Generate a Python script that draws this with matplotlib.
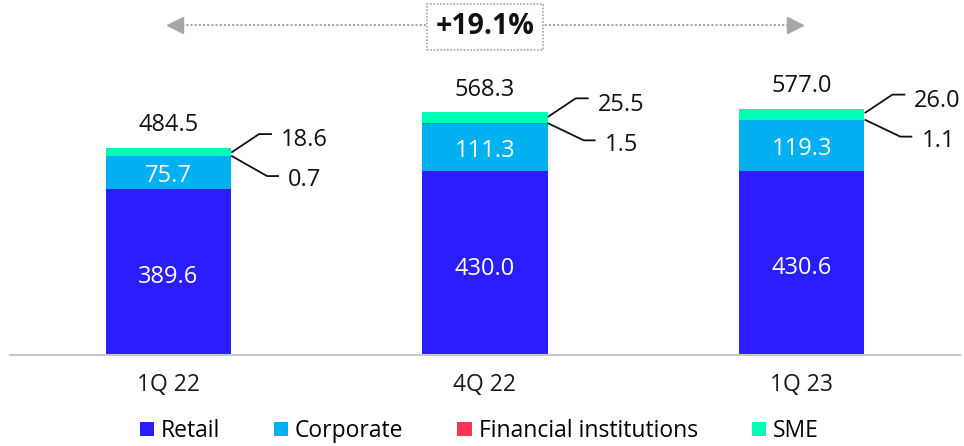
import matplotlib
matplotlib.use("Agg")
import matplotlib.pyplot as plt
from matplotlib.patches import Patch
import matplotlib.transforms as mtransforms
import numpy as np

categories = ['1Q 22', '4Q 22', '1Q 23']
retail = [389.6, 430.0, 430.6]
corporate = [75.7, 111.3, 119.3]
financial = [0.7, 1.5, 1.1]
sme = [18.6, 25.5, 26.0]
totals = [484.5, 568.3, 577.0]
growth_label = '+19.1%'
series_names = ['Retail', 'Corporate', 'Financial institutions', 'SME']

colors = ['#2A1EFF', '#00B0F0', '#FF3355', '#00FFB4']
FONT = ['Open Sans', 'DejaVu Sans']
plt.rcParams['font.family'] = FONT

W, H = 964, 446
fig = plt.figure(figsize=(W / 100, H / 100), dpi=100)
ax = fig.add_axes([10 / W, 91 / H, 950 / W, 355 / H])
ax.set_xlim(-0.5, 2.5)
ax.set_ylim(0, 355 / 0.427)

x = np.arange(len(categories))
bw = 0.396
r = np.array(retail)
c = np.array(corporate)
f = np.array(financial)
s = np.array(sme)

ax.bar(x, r, bw, color=colors[0], zorder=2)
ax.bar(x, c, bw, bottom=r, color=colors[1], zorder=2)
ax.bar(x, f, bw, bottom=r + c, color=colors[2], zorder=2)
ax.bar(x, s, bw, bottom=r + c + f, color=colors[3], zorder=2)

for sp in ['top', 'left', 'right']:
    ax.spines[sp].set_visible(False)
ax.spines['bottom'].set_color('#C8C8C8')
ax.spines['bottom'].set_linewidth(1.5)
ax.set_yticks([])
ax.set_xticks(x)
ax.set_xticklabels(categories, fontsize=16.5, color='#1a1a1a')
ax.tick_params(axis='x', length=0, pad=13)

fig.canvas.draw()
toD = ax.transData
inv = ax.transData.inverted()


def px(xd, yd, dx, dy):
    # dx right, dy down, in pixels
    X, Y = toD.transform((xd, yd))
    return inv.transform((X + dx, Y - dy))


fs = 17
half = 8.4  # half digit height in px


def label(xd, yd, dx, dy, txt, ha='center', color='#111111'):
    p = px(xd, yd, dx, dy + half)
    ax.text(p[0], p[1], txt, ha=ha, va='baseline', fontsize=fs, color=color, zorder=5)


for i in range(len(x)):
    right = x[i] + bw / 2
    top = r[i] + c[i] + f[i] + s[i]
    fi_y = r[i] + c[i] + f[i] / 2
    # inside labels
    label(x[i], r[i] / 2, 0, 3, f'{retail[i]:.1f}', color='white')
    label(x[i], r[i] + c[i] / 2, 0, 1, f'{corporate[i]:.1f}', color='white')
    # total label
    label(x[i], top, 0, -25, f'{totals[i]:.1f}')
    # SME leader
    p0 = px(right, top, 1, 4)
    p1 = px(right, top, 28, -14)
    p2 = px(right, top, 40, -14)
    ax.plot([p0[0], p1[0], p2[0]], [p0[1], p1[1], p2[1]], color='#111111', lw=1.3,
            clip_on=False, zorder=4)
    label(right, top, 50, -10, f'{sme[i]:.1f}', ha='left')
    # FI leader
    q0 = px(right, fi_y, 1, 0)
    q1 = px(right, top, 36, 28)
    q2 = px(right, top, 47, 28)
    ax.plot([q0[0], q1[0], q2[0]], [q0[1], q1[1], q2[1]], color='#111111', lw=1.3,
            clip_on=False, zorder=4)
    label(right, top, 57, 30, f'{financial[i]:.1f}', ha='left')

# growth arrow
trans = mtransforms.blended_transform_factory(ax.transData, fig.transFigure)
ya = 1 - 25 / H
ax.plot([x[0] + 0.03, x[-1] - 0.03], [ya, ya], transform=trans, color='#A6A6A6',
        lw=1.5, ls=(0, (1, 1)), clip_on=False)
ax.plot([x[0] + 0.02], [ya], transform=trans, marker='<', color='#A6A6A6',
        markersize=11, clip_on=False)
ax.plot([x[-1] - 0.02], [ya], transform=trans, marker='>', color='#A6A6A6',
        markersize=11, clip_on=False)
ax.text(x[1], 1 - 27 / H, growth_label, transform=trans, ha='center', va='center',
        fontsize=20.5, fontweight='bold', color='#111111', zorder=5,
        bbox=dict(boxstyle='square,pad=0.3', facecolor='white', edgecolor='#A6A6A6',
                  linestyle=(0, (1, 1)), linewidth=1.2))

handles = [Patch(facecolor=colors[k], edgecolor='none') for k in range(4)]
fig.legend(handles, series_names, loc='center', bbox_to_anchor=(0.497, 1 - 431 / H),
           ncol=4, frameon=False, fontsize=16.5, handlelength=0.62, handleheight=0.62,
           handletextpad=0.3, columnspacing=2.35, borderaxespad=0)

fig.savefig('out.png', dpi=100)
